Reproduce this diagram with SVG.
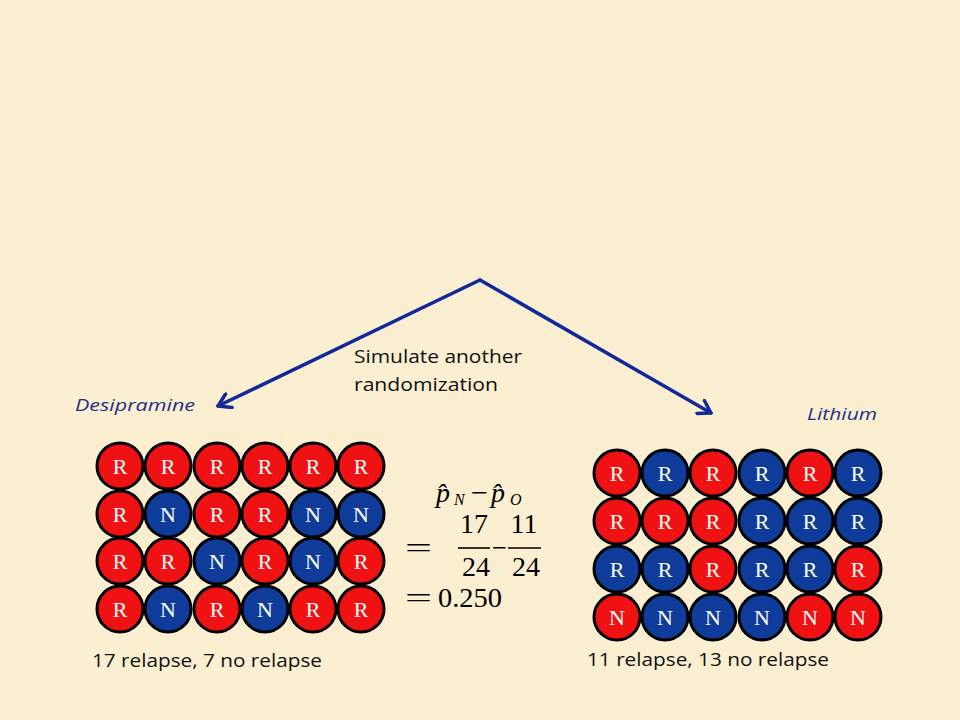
<svg xmlns="http://www.w3.org/2000/svg" width="960" height="720" viewBox="0 0 960 720">
<defs>
<style>
.r{fill:#F01212;stroke:#000;stroke-width:3}
.b{fill:#0F3C9B;stroke:#000;stroke-width:3}
.l{font-family:"Liberation Serif","DejaVu Serif",serif;font-size:22px;fill:#fff;text-anchor:middle}
.lbl{font-family:"Open Sans","Liberation Sans",sans-serif;font-size:18px;fill:#111}
.grp{font-family:"Open Sans","Liberation Sans",sans-serif;font-size:17px;font-style:italic;fill:#1F2F8A}
.m{font-family:"Liberation Serif","DejaVu Serif",serif;font-size:28px;fill:#000}
.mi{font-family:"Liberation Serif","DejaVu Serif",serif;font-size:28px;font-style:italic;fill:#000}
.ms{font-family:"Liberation Serif","DejaVu Serif",serif;font-size:16px;font-style:italic;fill:#000}
.conn{stroke:#13299A;stroke-width:3.5;fill:none;stroke-linecap:round;stroke-linejoin:round}
</style>
<marker id="ah" viewBox="-14 -9 16 18" markerWidth="16" markerHeight="18" refX="0" refY="0" orient="auto" markerUnits="userSpaceOnUse">
<path d="M -12 -7.5 L 0 0 L -12 7.5" fill="none" stroke="#13299A" stroke-width="3.5" stroke-linecap="round" stroke-linejoin="round"/>
</marker>
<filter id="tex" x="0" y="0" width="100%" height="100%">
<feTurbulence type="fractalNoise" baseFrequency="0.02" numOctaves="3" seed="4"/>
<feColorMatrix values="0 0 0 0 0.93  0 0 0 0 0.85  0 0 0 0 0.65  0 0 0 0.5 0"/>
</filter>
</defs>
<rect width="960" height="720" fill="#FBEFD1"/>
<rect width="960" height="720" filter="url(#tex)" opacity="0.35"/>
<g id="connectors">
<path class="conn" d="M 480 280 L 218 406" marker-end="url(#ah)"/>
<path class="conn" d="M 480 280 L 711 413" marker-end="url(#ah)"/>
</g>
<g id="caption">
<text class="lbl" x="354" y="363" textLength="168" lengthAdjust="spacingAndGlyphs">Simulate another</text>
<text class="lbl" x="354" y="391" textLength="144" lengthAdjust="spacingAndGlyphs">randomization</text>
</g>
<g id="label-desipramine"><text class="grp" x="75" y="411" textLength="120" lengthAdjust="spacingAndGlyphs">Desipramine</text></g>
<g id="label-lithium"><text class="grp" x="807" y="420" textLength="70" lengthAdjust="spacingAndGlyphs">Lithium</text></g>
<g id="desipramine-grid">
<circle class="r" cx="120" cy="466" r="23"/><text class="l" x="120" y="474">R</text>
<circle class="r" cx="168" cy="466" r="23"/><text class="l" x="168" y="474">R</text>
<circle class="r" cx="217" cy="466" r="23"/><text class="l" x="217" y="474">R</text>
<circle class="r" cx="265" cy="466" r="23"/><text class="l" x="265" y="474">R</text>
<circle class="r" cx="313" cy="466" r="23"/><text class="l" x="313" y="474">R</text>
<circle class="r" cx="361" cy="466" r="23"/><text class="l" x="361" y="474">R</text>
<circle class="r" cx="120" cy="514" r="23"/><text class="l" x="120" y="522">R</text>
<circle class="b" cx="168" cy="514" r="23"/><text class="l" x="168" y="522">N</text>
<circle class="r" cx="217" cy="514" r="23"/><text class="l" x="217" y="522">R</text>
<circle class="r" cx="265" cy="514" r="23"/><text class="l" x="265" y="522">R</text>
<circle class="b" cx="313" cy="514" r="23"/><text class="l" x="313" y="522">N</text>
<circle class="b" cx="361" cy="514" r="23"/><text class="l" x="361" y="522">N</text>
<circle class="r" cx="120" cy="561" r="23"/><text class="l" x="120" y="569">R</text>
<circle class="r" cx="168" cy="561" r="23"/><text class="l" x="168" y="569">R</text>
<circle class="b" cx="217" cy="561" r="23"/><text class="l" x="217" y="569">N</text>
<circle class="r" cx="265" cy="561" r="23"/><text class="l" x="265" y="569">R</text>
<circle class="b" cx="313" cy="561" r="23"/><text class="l" x="313" y="569">N</text>
<circle class="r" cx="361" cy="561" r="23"/><text class="l" x="361" y="569">R</text>
<circle class="r" cx="120" cy="609" r="23"/><text class="l" x="120" y="617">R</text>
<circle class="b" cx="168" cy="609" r="23"/><text class="l" x="168" y="617">N</text>
<circle class="r" cx="217" cy="609" r="23"/><text class="l" x="217" y="617">R</text>
<circle class="b" cx="265" cy="609" r="23"/><text class="l" x="265" y="617">N</text>
<circle class="r" cx="313" cy="609" r="23"/><text class="l" x="313" y="617">R</text>
<circle class="r" cx="361" cy="609" r="23"/><text class="l" x="361" y="617">R</text>
</g>
<g id="lithium-grid">
<circle class="r" cx="617" cy="473" r="23"/><text class="l" x="617" y="481">R</text>
<circle class="b" cx="665" cy="473" r="23"/><text class="l" x="665" y="481">R</text>
<circle class="r" cx="713" cy="473" r="23"/><text class="l" x="713" y="481">R</text>
<circle class="b" cx="762" cy="473" r="23"/><text class="l" x="762" y="481">R</text>
<circle class="r" cx="810" cy="473" r="23"/><text class="l" x="810" y="481">R</text>
<circle class="b" cx="858" cy="473" r="23"/><text class="l" x="858" y="481">R</text>
<circle class="r" cx="617" cy="521" r="23"/><text class="l" x="617" y="529">R</text>
<circle class="r" cx="665" cy="521" r="23"/><text class="l" x="665" y="529">R</text>
<circle class="r" cx="713" cy="521" r="23"/><text class="l" x="713" y="529">R</text>
<circle class="b" cx="762" cy="521" r="23"/><text class="l" x="762" y="529">R</text>
<circle class="b" cx="810" cy="521" r="23"/><text class="l" x="810" y="529">R</text>
<circle class="b" cx="858" cy="521" r="23"/><text class="l" x="858" y="529">R</text>
<circle class="b" cx="617" cy="569" r="23"/><text class="l" x="617" y="577">R</text>
<circle class="b" cx="665" cy="569" r="23"/><text class="l" x="665" y="577">R</text>
<circle class="r" cx="713" cy="569" r="23"/><text class="l" x="713" y="577">R</text>
<circle class="b" cx="762" cy="569" r="23"/><text class="l" x="762" y="577">R</text>
<circle class="b" cx="810" cy="569" r="23"/><text class="l" x="810" y="577">R</text>
<circle class="r" cx="858" cy="569" r="23"/><text class="l" x="858" y="577">R</text>
<circle class="r" cx="617" cy="617" r="23"/><text class="l" x="617" y="625">N</text>
<circle class="b" cx="665" cy="617" r="23"/><text class="l" x="665" y="625">N</text>
<circle class="b" cx="713" cy="617" r="23"/><text class="l" x="713" y="625">N</text>
<circle class="b" cx="762" cy="617" r="23"/><text class="l" x="762" y="625">N</text>
<circle class="r" cx="810" cy="617" r="23"/><text class="l" x="810" y="625">N</text>
<circle class="r" cx="858" cy="617" r="23"/><text class="l" x="858" y="625">N</text>
</g>
<g id="formula">
<text class="mi" x="436" y="502">p̂</text>
<text class="ms" x="454" y="505">N</text>
<text class="m" x="471" y="502" textLength="17" lengthAdjust="spacingAndGlyphs">−</text>
<text class="mi" x="491" y="502">p̂</text>
<text class="ms" x="510" y="505">O</text>
<text class="m" x="405" y="557" textLength="27" lengthAdjust="spacingAndGlyphs">=</text>
<text class="m" x="474" y="533" text-anchor="middle">17</text>
<line x1="458" y1="548" x2="490" y2="548" stroke="#000" stroke-width="1.6"/>
<text class="m" x="476" y="576" text-anchor="middle">24</text>
<text class="m" x="492" y="557" textLength="15" lengthAdjust="spacingAndGlyphs">−</text>
<text class="m" x="524" y="533" text-anchor="middle">11</text>
<line x1="508" y1="548" x2="541" y2="548" stroke="#000" stroke-width="1.6"/>
<text class="m" x="526" y="576" text-anchor="middle">24</text>
<text class="m" x="405" y="607" textLength="27" lengthAdjust="spacingAndGlyphs">=</text>
<text class="m" x="438" y="607" textLength="64" lengthAdjust="spacingAndGlyphs">0.250</text>
</g>
<g id="counts">
<text class="lbl" x="92" y="667" textLength="230" lengthAdjust="spacingAndGlyphs">17 relapse, 7 no relapse</text>
<text class="lbl" x="587" y="666" textLength="242" lengthAdjust="spacingAndGlyphs">11 relapse, 13 no relapse</text>
</g>
</svg>
